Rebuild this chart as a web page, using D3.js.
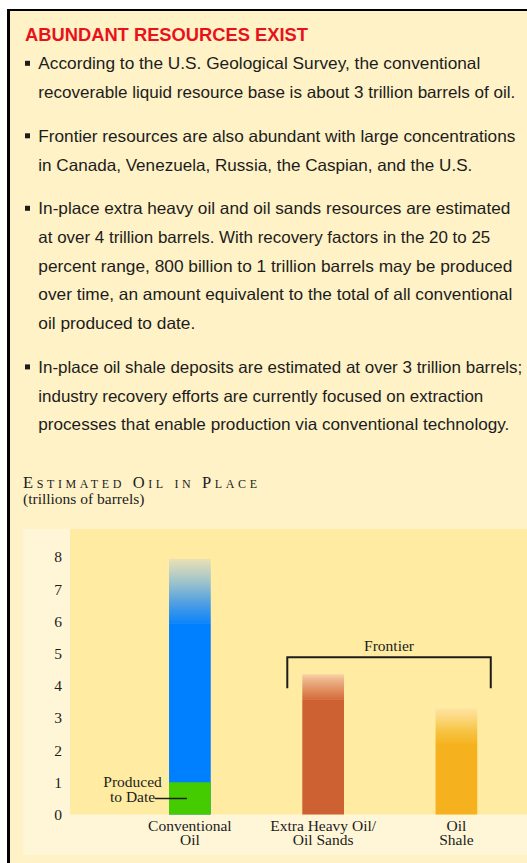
<!DOCTYPE html>
<html>
<head>
<meta charset="utf-8">
<script src="https://cdn.jsdelivr.net/npm/d3@7"></script>
<style>
  body { margin: 0; background: #fff; }
  svg { display: block; }
</style>
</head>
<body>
<div id="wrapper"></div>
<script>
// Text panel
const headline = "ABUNDANT RESOURCES EXIST"
const bullets = [
  ["According to the U.S. Geological Survey, the conventional",
   "recoverable liquid resource base is about 3 trillion barrels of oil."],
  ["Frontier resources are also abundant with large concentrations",
   "in Canada, Venezuela, Russia, the Caspian, and the U.S."],
  ["In-place extra heavy oil and oil sands resources are estimated",
   "at over 4 trillion barrels. With recovery factors in the 20 to 25",
   "percent range, 800 billion to 1 trillion barrels may be produced",
   "over time, an amount equivalent to the total of all conventional",
   "oil produced to date."],
  ["In-place oil shale deposits are estimated at over 3 trillion barrels;",
   "industry recovery efforts are currently focused on extraction",
   "processes that enable production via conventional technology."],
]

// Chart data (trillions of barrels)
const chartTitle = "Estimated Oil in Place"
const chartUnits = "(trillions of barrels)"
const categories = ["Conventional Oil", "Extra Heavy Oil/Oil Sands", "Oil Shale"]
const categoryLabels = [["Conventional", "Oil"], ["Extra Heavy Oil/", "Oil Sands"], ["Oil", "Shale"]]
const lowEstimate = [5.92, 3.56, 2.22]
const highEstimate = [7.94, 4.36, 3.30]
const producedToDate = [1.0, 0, 0]
const yTicks = [0, 1, 2, 3, 4, 5, 6, 7, 8]
const frontierGroup = ["Extra Heavy Oil/Oil Sands", "Oil Shale"]

function drawChart() {
  const width = 527
  const height = 863
  const sans = "'Liberation Sans', Arial, Helvetica, sans-serif"
  const serif = "'Liberation Serif', 'Times New Roman', Times, serif"
  const ink = "#1c1c1c"

  // measured line widths of the body copy
  const lineFit = [
    [442, 477], [477, 434], [472, 452, 474, 474, 157], [484, 445, 471],
  ]

  const wrapper = d3.select("#wrapper")
    .append("svg")
    .attr("width", width)
    .attr("height", height)

  // Outer box
  wrapper.append("rect")
    .attr("x", 9).attr("y", 10)
    .attr("width", width).attr("height", height)
    .attr("fill", "#fff2c6")
  wrapper.append("rect")
    .attr("x", 7).attr("y", 9)
    .attr("width", 3).attr("height", height)
    .attr("fill", "#000")
  wrapper.append("rect")
    .attr("x", 7).attr("y", 9)
    .attr("width", width).attr("height", 2)
    .attr("fill", "#000")

  wrapper.append("text")
    .attr("x", 25)
    .attr("y", 41)
    .attr("font-family", sans)
    .attr("font-weight", "bold")
    .attr("font-size", 19)
    .attr("fill", "#e8121c")
    .attr("textLength", 283)
    .attr("lengthAdjust", "spacingAndGlyphs")
    .text(headline)

  // Bullets
  const lineStep = 28.7
  const paraGap = 43.8
  let baseline = 69.3
  bullets.forEach((para, i) => {
    wrapper.append("rect")
      .attr("x", 25)
      .attr("y", baseline - 8.5)
      .attr("width", 5)
      .attr("height", 5)
      .attr("fill", ink)
    para.forEach((line, j) => {
      wrapper.append("text")
        .attr("x", 38.3)
        .attr("y", baseline)
        .attr("font-family", sans)
        .attr("font-size", 16.5)
        .attr("fill", ink)
        .attr("textLength", lineFit[i][j])
        .attr("lengthAdjust", "spacingAndGlyphs")
        .text(line)
      if (j < para.length - 1) baseline += lineStep
    })
    baseline += paraGap
  })

  // Chart heading
  wrapper.append("text")
    .attr("x", 23)
    .attr("y", 488.3)
    .attr("font-family", serif)
    .attr("font-size", 16.5)
    .style("font-variant", "small-caps")
    .attr("fill", ink)
    .attr("textLength", 234)
    .attr("lengthAdjust", "spacing")
    .text(chartTitle)

  wrapper.append("text")
    .attr("x", 23)
    .attr("y", 504)
    .attr("font-family", serif)
    .attr("font-size", 15.5)
    .attr("fill", ink)
    .text(chartUnits)

  // Scales
  const yScale = d3.scaleLinear()
    .domain([0, 8])
    .range([814.5, 557])

  const xScale = d3.scaleBand()
    .domain(categories)
    .range([102.4, 543.9])
    .paddingInner(0.687)
    .paddingOuter(0.5)

  // Panels
  wrapper.append("rect")
    .attr("x", 23).attr("y", 529)
    .attr("width", width - 23).attr("height", 326)
    .attr("fill", "#fff6d8")
  wrapper.append("rect")
    .attr("x", 70).attr("y", 529)
    .attr("width", width - 70).attr("height", yScale(0) - 529)
    .attr("fill", "#ffeca2")

  // Gradients for the uncertain upper part of each bar
  const barColors = ["#0080ff", "#cd6131", "#f5b21e"]
  const fadeStops = [
    [["0%", "#0a84fb"], ["30%", "#4b9de4"], ["65%", "#9fc4cb"], ["100%", "#ebe1b4"]],
    [["0%", "#d46a3b"], ["40%", "#e19060"], ["75%", "#ecb286"], ["100%", "#f8d4a8"]],
    [["0%", "#f5b524"], ["35%", "#f7c444"], ["70%", "#fbd77a"], ["100%", "#ffe3a4"]],
  ]
  const defs = wrapper.append("defs")
  fadeStops.forEach((stops, i) => {
    defs.append("linearGradient")
      .attr("id", `fade-${i}`)
      .attr("x1", 0).attr("y1", 1)
      .attr("x2", 0).attr("y2", 0)
      .selectAll("stop")
      .data(stops)
      .join("stop")
      .attr("offset", d => d[0])
      .attr("stop-color", d => d[1])
  })

  const bars = wrapper.append("g")

  bars.selectAll(".fade")
    .data(categories)
    .join("rect")
    .attr("class", "fade")
    .attr("x", d => xScale(d))
    .attr("width", xScale.bandwidth())
    .attr("y", (d, i) => yScale(highEstimate[i]))
    .attr("height", (d, i) => yScale(lowEstimate[i]) - yScale(highEstimate[i]))
    .attr("fill", (d, i) => `url(#fade-${i})`)

  bars.selectAll(".solid")
    .data(categories)
    .join("rect")
    .attr("class", "solid")
    .attr("x", d => xScale(d))
    .attr("width", xScale.bandwidth())
    .attr("y", (d, i) => yScale(lowEstimate[i]))
    .attr("height", (d, i) => yScale(0) - yScale(lowEstimate[i]))
    .attr("fill", (d, i) => barColors[i])

  bars.selectAll(".produced")
    .data(categories.filter((d, i) => producedToDate[i] > 0))
    .join("rect")
    .attr("class", "produced")
    .attr("x", d => xScale(d))
    .attr("width", xScale.bandwidth())
    .attr("y", d => yScale(producedToDate[categories.indexOf(d)]))
    .attr("height", d => yScale(0) - yScale(producedToDate[categories.indexOf(d)]))
    .attr("fill", "#44cc00")

  // Y axis
  const yAxisGenerator = d3.axisLeft()
    .scale(yScale)
    .tickValues(yTicks)
    .tickSize(0)
    .tickPadding(0)
    .tickFormat(d3.format("d"))

  const yAxis = wrapper.append("g")
    .attr("transform", "translate(62,0)")
    .call(yAxisGenerator)
  yAxis.select(".domain").remove()
  yAxis.selectAll("text")
    .attr("font-family", serif)
    .attr("font-size", 15.5)
    .attr("fill", ink)

  // Category labels
  const labels = wrapper.append("g")
    .attr("font-family", serif)
    .attr("font-size", 15.5)
    .attr("fill", ink)
    .attr("text-anchor", "middle")
  labels.selectAll("text")
    .data(categories)
    .join("text")
    .attr("x", d => xScale(d) + xScale.bandwidth() / 2)
    .attr("y", yScale(0) + 16.5)
    .selectAll("tspan")
    .data((d, i) => categoryLabels[i])
    .join("tspan")
    .attr("x", function () { return d3.select(this.parentNode).attr("x") })
    .attr("dy", (d, j) => j === 0 ? 0 : 14)
    .text(d => d)

  // Produced to Date annotation
  const convX = xScale(categories[0]) + xScale.bandwidth() / 2
  const leaderY = yScale(producedToDate[0] / 2)
  wrapper.append("line")
    .attr("x1", convX - 35)
    .attr("x2", convX - 3)
    .attr("y1", leaderY)
    .attr("y2", leaderY)
    .attr("stroke", ink)
    .attr("stroke-width", 1.5)
  const note = wrapper.append("text")
    .attr("font-family", serif)
    .attr("font-size", 15.5)
    .attr("fill", ink)
    .attr("text-anchor", "middle")
  note.append("tspan")
    .attr("x", convX - 57.3)
    .attr("y", leaderY - 11.5)
    .text("Produced")
  note.append("tspan")
    .attr("x", convX - 57.3)
    .attr("y", leaderY + 3.5)
    .text("to Date")

  // Frontier bracket
  const fx0 = xScale(frontierGroup[0]) - 15
  const fx1 = xScale(frontierGroup[1]) + xScale.bandwidth() + 13.5
  const frontierMax = d3.max(frontierGroup, d => highEstimate[categories.indexOf(d)])
  const fTop = yScale(frontierMax) - 17
  wrapper.append("path")
    .attr("d", `M${fx0},${fTop + 31}V${fTop}H${fx1}V${fTop + 31}`)
    .attr("fill", "none")
    .attr("stroke", ink)
    .attr("stroke-width", 2)
  wrapper.append("text")
    .attr("x", (fx0 + fx1) / 2)
    .attr("y", fTop - 6.6)
    .attr("font-family", serif)
    .attr("font-size", 15.5)
    .attr("fill", ink)
    .attr("text-anchor", "middle")
    .text("Frontier")
}

drawChart()
</script>
</body>
</html>
